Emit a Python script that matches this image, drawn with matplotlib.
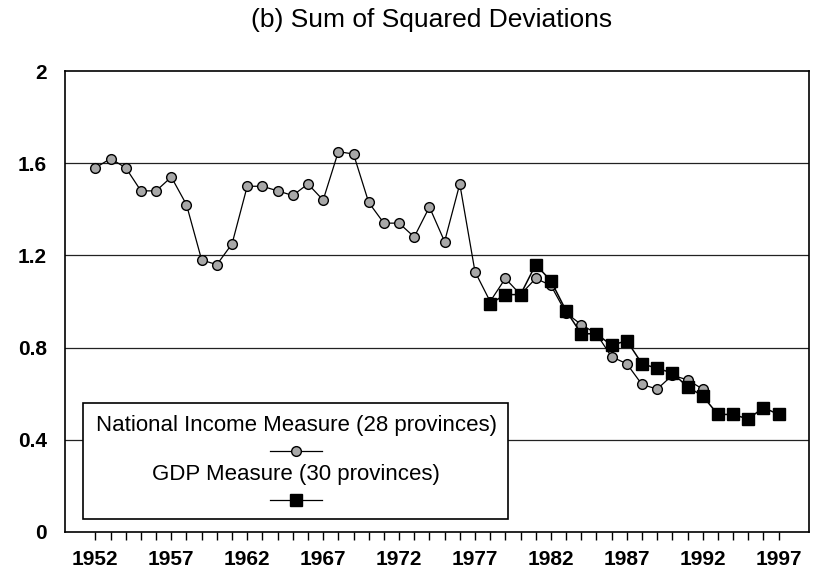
# Libraries:
import numpy as np
import matplotlib
matplotlib.use('Agg')
import matplotlib.pyplot as plt
from matplotlib.patches import Rectangle
from matplotlib.lines import Line2D

# Data:
years_ni = list(range(1952, 1993))      # National income measure, 28 provinces
ni_ssd = [1.58, 1.62, 1.58, 1.48, 1.48, 1.54, 1.42, 1.18, 1.16, 1.25,
          1.50, 1.50, 1.48, 1.46, 1.51, 1.44, 1.65, 1.64, 1.43, 1.34,
          1.34, 1.28, 1.41, 1.26, 1.51, 1.13, 1.00, 1.10, 1.03, 1.10,
          1.07, 0.95, 0.90, 0.86, 0.76, 0.73, 0.64, 0.62, 0.68, 0.66,
          0.62]
years_gdp = list(range(1978, 1998))     # GDP measure, 30 provinces
gdp_ssd = [0.99, 1.03, 1.03, 1.16, 1.09, 0.96, 0.86, 0.86, 0.81, 0.83,
           0.73, 0.71, 0.69, 0.63, 0.59, 0.51, 0.51, 0.49, 0.54, 0.51]
xtick_years = list(range(1952, 1998, 5))
ytick_vals = [0, 0.4, 0.8, 1.2, 1.6, 2]
ytick_labels = ['0', '0.4', '0.8', '1.2', '1.6', '2']
label_ni = 'National Income Measure (28 provinces)'
label_gdp = 'GDP Measure (30 provinces)'
title = '(b) Sum of Squared Deviations'

# Plot configuration:
plt.rcParams['font.family'] = ['Liberation Sans', 'DejaVu Sans']
wPlot, hPlot = 8.16, 5.75

fig = plt.figure(figsize=(wPlot, hPlot), dpi=100)
ax = fig.add_axes([0.0797, 0.0748, 0.9117, 0.8017])

# Grid lines (horizontal only):
for v in ytick_vals[1:-1]:
    ax.axhline(v, color='#222222', lw=0.9, zorder=1)

# Series:
ax.plot(years_ni, ni_ssd, color='black', lw=0.9, marker='o', markersize=7,
        markerfacecolor='#a8a8a8', markeredgecolor='black', markeredgewidth=1.0, zorder=3)
ax.plot(years_gdp, gdp_ssd, color='black', lw=1.1, marker='s', markersize=8,
        markerfacecolor='black', markeredgecolor='black', zorder=4)

# Axes:
ax.set_xlim(1950.0, 1999.0)
ax.set_ylim(0, 2)
ax.set_xticks(xtick_years)
ax.set_xticklabels([str(y) for y in xtick_years], fontsize=15, fontweight='bold')
ax.set_xticks(range(1952, 1998), minor=True)
ax.tick_params(axis='x', which='both', direction='out', length=6, width=1.0, pad=7)
ax.set_yticks(ytick_vals)
ax.set_yticklabels(ytick_labels, fontsize=15, fontweight='bold')
ax.tick_params(axis='y', length=0, pad=13)
for s in ax.spines.values():
    s.set_linewidth(1.2)
    s.set_color('black')

# Title:
fig.text(0.529, 0.965, title, ha='center', va='center', fontsize=19)

# Legend (text above a sample of each line, drawn in axes fraction):
ax.add_patch(Rectangle((0.0242, 0.0282), 0.5712, 0.2516, transform=ax.transAxes,
                       facecolor='white', edgecolor='black', lw=1.2, zorder=5))
xc = 0.3105
ax.text(xc, 0.232, label_ni, transform=ax.transAxes, ha='center', va='center',
        fontsize=16, zorder=6)
ax.text(xc, 0.124, label_gdp, transform=ax.transAxes, ha='center', va='center',
        fontsize=16, zorder=6)
ax.add_line(Line2D([xc - 0.035, xc, xc + 0.035], [0.1757, 0.1757, 0.1757],
                   transform=ax.transAxes, color='black', lw=0.9, marker='o',
                   markersize=7, markevery=[1], markerfacecolor='#a8a8a8',
                   markeredgecolor='black', zorder=6))
ax.add_line(Line2D([xc - 0.035, xc, xc + 0.035], [0.0694, 0.0694, 0.0694],
                   transform=ax.transAxes, color='black', lw=0.9, marker='s',
                   markersize=8, markevery=[1], markerfacecolor='black',
                   markeredgecolor='black', zorder=6))

fig.savefig('out.png', dpi=100)
